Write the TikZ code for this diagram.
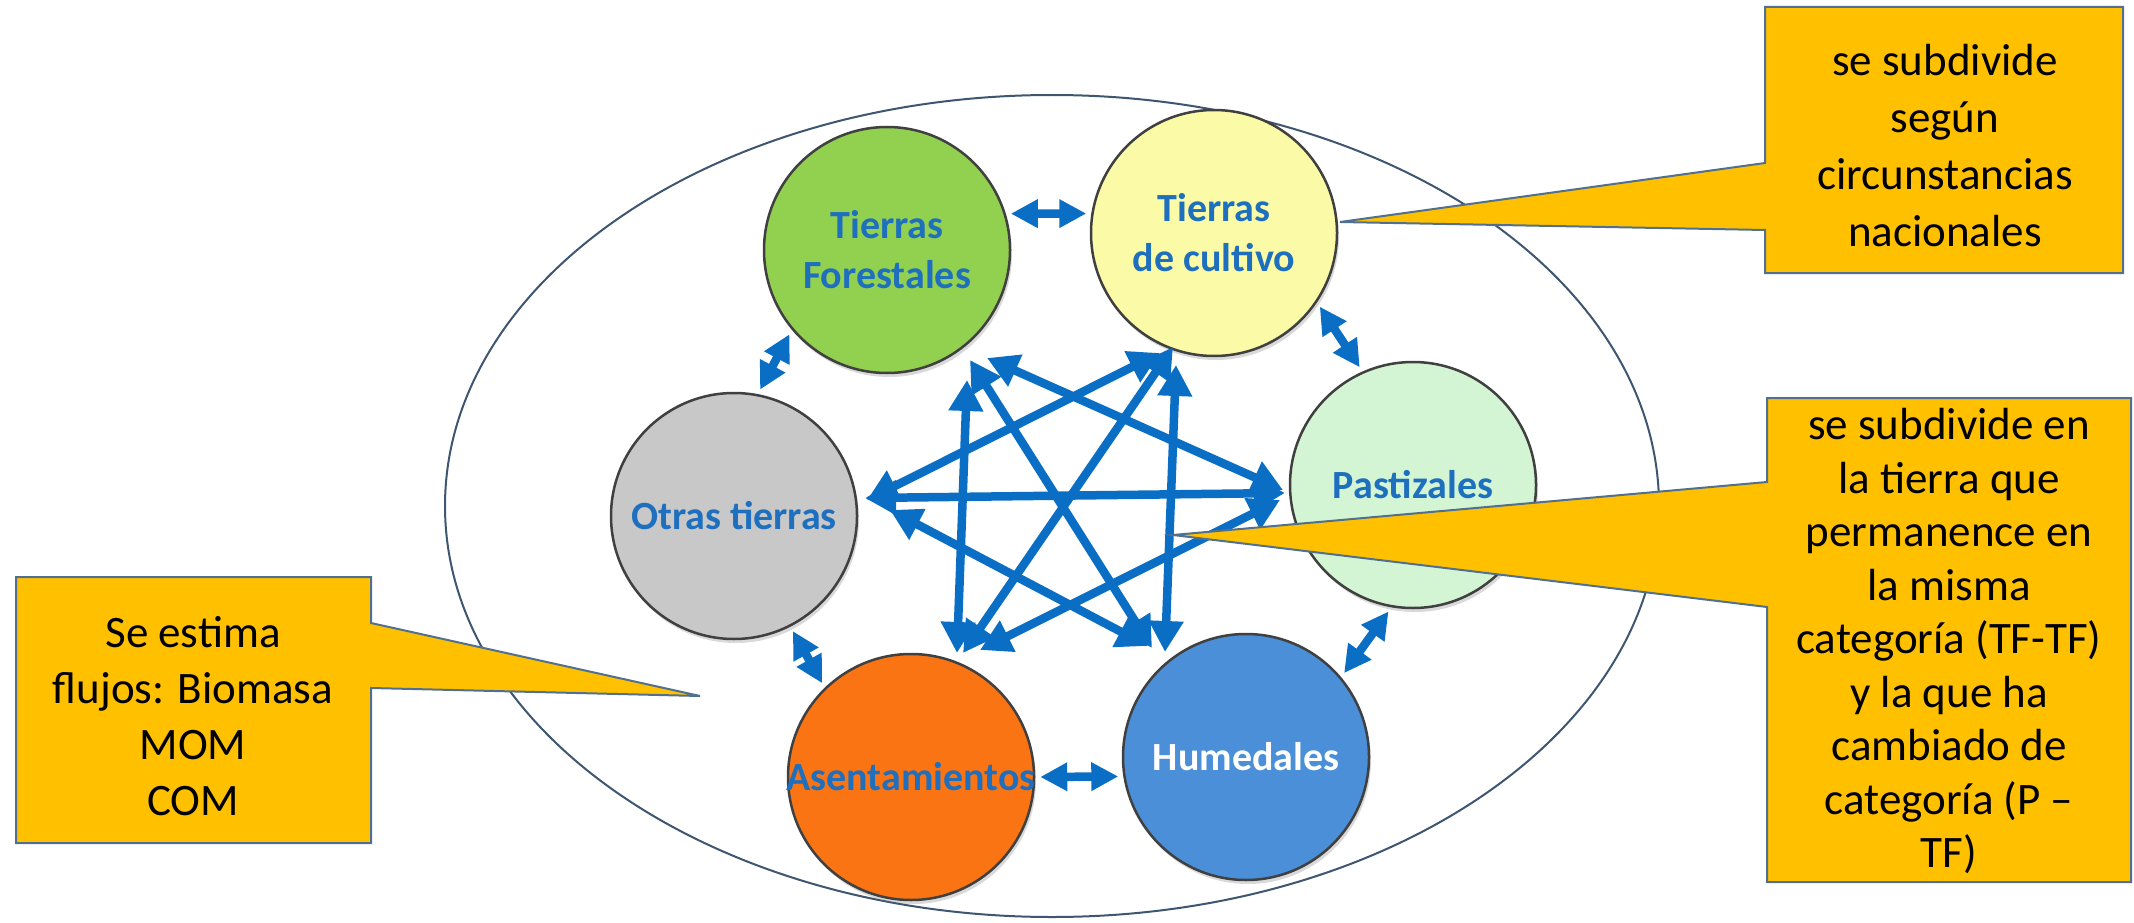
\documentclass[tikz,border=0pt]{standalone}
\usepackage{fontspec}
\setmainfont{Carlito}
\usetikzlibrary{arrows.meta,calc,shadows}

\definecolor{txtblue}{HTML}{1F6FBF}
\definecolor{flowblue}{HTML}{0A6EC4}
\definecolor{cForest}{HTML}{92D050}
\definecolor{cCrop}{HTML}{FBFAA6}
\definecolor{cGrass}{HTML}{D3F5D3}
\definecolor{cWet}{HTML}{4A8FD8}
\definecolor{cSettle}{HTML}{FA7414}
\definecolor{cOther}{HTML}{C8C8C8}
\definecolor{notefill}{HTML}{FFC000}
\definecolor{noteline}{HTML}{51708E}
\definecolor{rimline}{HTML}{3E5670}

\tikzset{
  land/.style={circle, draw=black!75, line width=2.5pt, minimum size=246pt, inner sep=0pt,
    drop shadow={opacity=0.3, shadow xshift=2pt, shadow yshift=-4pt}},
  landtxt/.style={font=\bfseries\fontsize{40}{50}\selectfont, text=txtblue, align=center},
  flow/.style={flowblue, line width=8.5pt, >={Triangle[length=31pt,width=33pt]}, <->},
  ringflow/.style={flowblue, line width=8.5pt, >={Triangle[length=27pt,width=27pt]}, <->,
    shorten <=5pt, shorten >=5pt},
  note/.style={fill=notefill, draw=noteline, line width=2pt, line join=miter},
  notetxt/.style={align=center, text=black},
}

\begin{document}
\begin{tikzpicture}[x=1pt, y=-1pt]

\useasboundingbox (0,0) rectangle (2134,923);

% Outer ellipse
\draw[rimline, line width=2pt] (1052,506) ellipse [x radius=607, y radius=411];

% Land-use categories
\node[land, fill=cForest, label={[landtxt]center:Tierras\\Forestales}] (F) at (887,250) {};
\node[land, fill=cCrop, label={[landtxt]center:Tierras\\de cultivo}] (C) at (1214,233) {};
\node[land, fill=cGrass, label={[landtxt]center:Pastizales}] (P) at (1413,485) {};
\node[land, fill=cWet, label={[landtxt, text=white]center:Humedales}] (H) at (1246,757) {};
\node[land, fill=cSettle, label={[landtxt]center:Asentamientos}] (A) at (911,777) {};
\node[land, fill=cOther, label={[landtxt]center:Otras tierras}] (O) at (734,516) {};

% Transitions between neighbours
\draw[ringflow] (F.17) -- (C.171);
\draw[ringflow] (C.-34) -- (P.114);
\draw[ringflow] (P.-100) -- (H.40);
\draw[ringflow] (H.-171) -- (A.0);
\draw[ringflow] (A.134) -- (O.-63);
\draw[ringflow] (O.79) -- (F.-140);

% Transitions across the ring
\draw[flow] ($(F)+(80,130)$) -- ($(A)+(46,-124)$);
\draw[flow] ($(F)+(83,110)$) -- ($(H)+(-94,-109)$);
\draw[flow] ($(F)+(100,108)$) -- ($(P)+(-130,5)$);
\draw[flow] ($(C)+(-38,132)$) -- ($(H)+(-81,-105)$);
\draw[flow] ($(C)+(-41,114)$) -- ($(A)+(52,-124)$);
\draw[flow] ($(C)+(-54,120)$) -- ($(O)+(133,-16)$);
\draw[flow] ($(P)+(-128,8)$) -- ($(O)+(131,-18)$);
\draw[flow] ($(O)+(156,-6)$) -- ($(H)+(-98,-111)$);
\draw[flow] ($(P)+(-133,15)$) -- ($(A)+(69,-127)$);

% Callouts
\draw[note] (1765,7) -- (2123,7) -- (2123,273) -- (1765,273) -- (1765,230)
  -- (1340,222) -- (1765,163) -- cycle;
\node[notetxt, font=\fontsize{45}{57}\selectfont] (notecrop) at (1945,146)
  {se subdivide\\según\\circunstancias\\nacionales};

\draw[note] (1767,398) -- (2131,398) -- (2131,882) -- (1767,882) -- (1767,607)
  -- (1173,535) -- (1767,482) -- cycle;
\node[notetxt, font=\fontsize{45}{53.5}\selectfont] (notegrass) at (1949,641)
  {se subdivide en\\la tierra que\\permanence en\\la misma\\categoría (TF-TF)\\y la que ha\\cambiado de\\categoría (P –\\TF)};

\draw[note] (16,577) -- (371,577) -- (371,623) -- (700,696) -- (371,688)
  -- (371,843) -- (16,843) -- cycle;
\node[notetxt, font=\fontsize{45}{56}\selectfont] (noteflux) at (193,716)
  {Se estima\\flujos: Biomasa\\MOM\\COM};

\end{tikzpicture}
\end{document}
